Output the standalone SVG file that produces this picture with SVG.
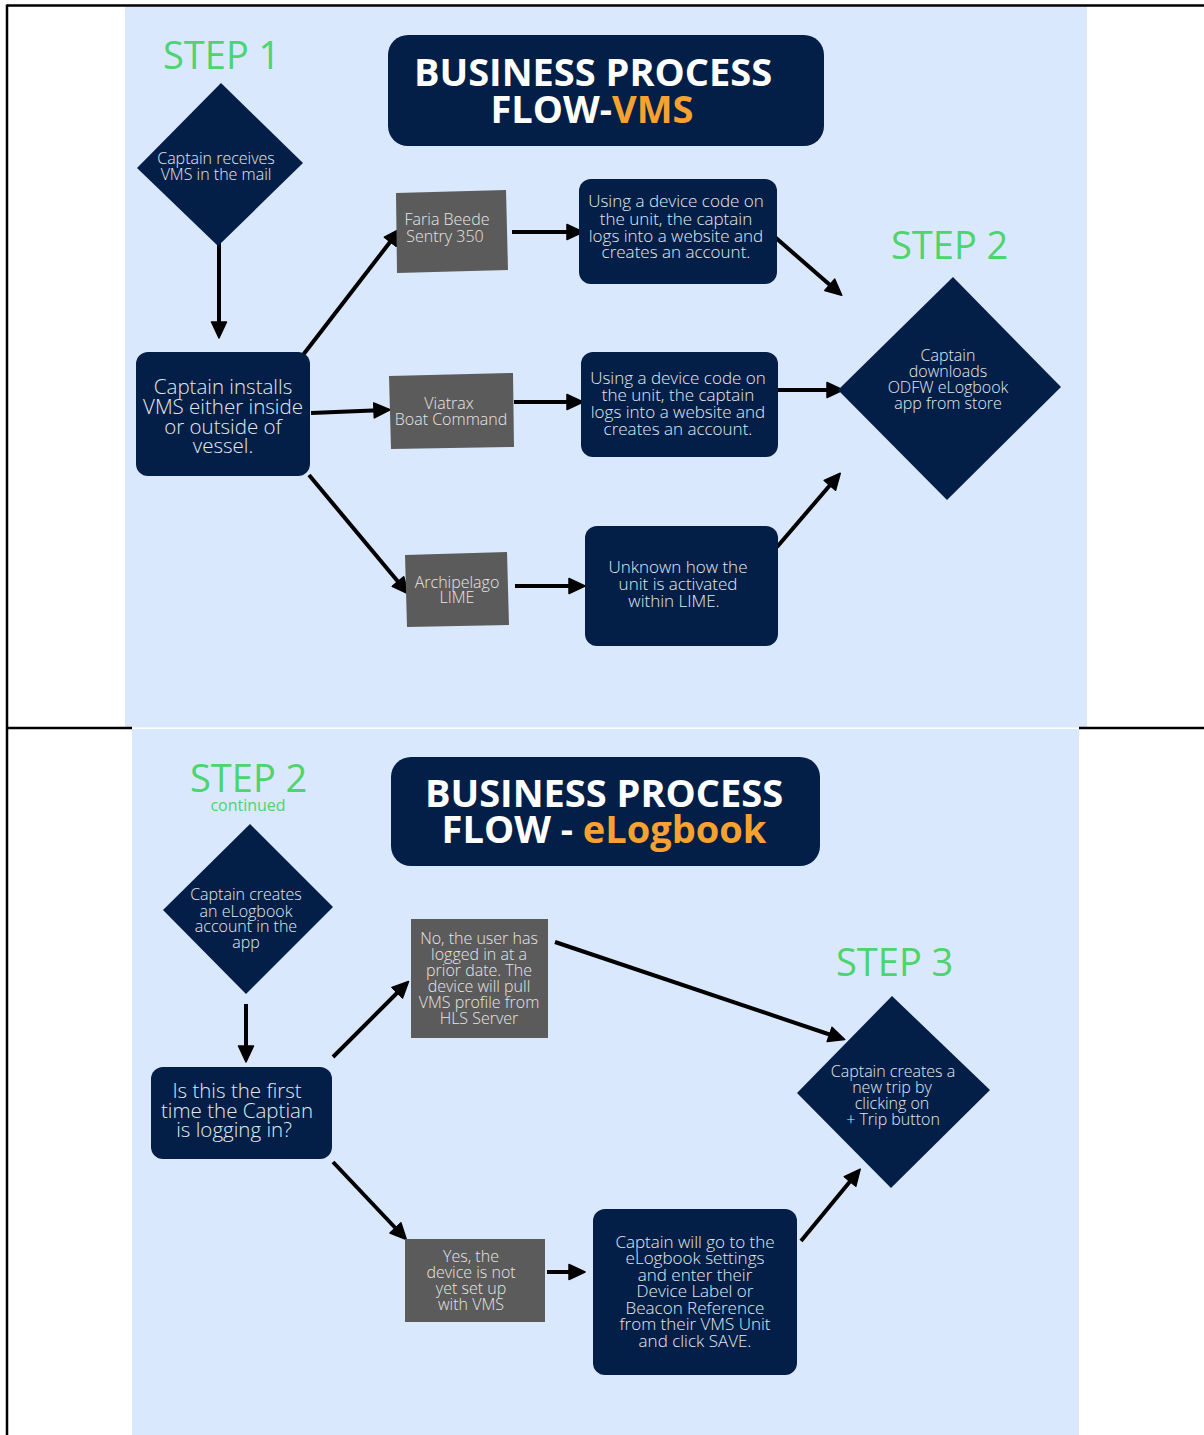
<svg xmlns="http://www.w3.org/2000/svg" width="1204" height="1435" viewBox="0 0 1204 1435">
<defs>
<style>
.panel{fill:#d9e8fc}
.navy{fill:#031f47}
.grey{fill:#5b5b5b}
.frame{stroke:#000;stroke-width:2.5;fill:none}
.title{font-family:"Open Sans","Liberation Sans",sans-serif;font-weight:700;font-size:38px;fill:#ffffff;text-anchor:middle}
.orange{fill:#f7a230}
.step{font-family:"Open Sans","Liberation Sans",sans-serif;font-size:38px;fill:#4cd46e}
.small-green{font-family:"Open Sans","Liberation Sans",sans-serif;font-size:16px;fill:#4cd46e;text-anchor:middle}
.t{font-family:"Open Sans","Liberation Sans",sans-serif;font-weight:300;font-size:16px;fill:#e3e8f0;text-anchor:middle}
.tg{font-family:"Open Sans","Liberation Sans",sans-serif;font-weight:300;font-size:16px;fill:#e6e6e6;text-anchor:middle}
.tl{font-family:"Open Sans","Liberation Sans",sans-serif;font-weight:300;font-size:20.5px;fill:#e3e8f0;text-anchor:middle}
.tm{font-family:"Open Sans","Liberation Sans",sans-serif;font-weight:300;font-size:17px;fill:#e3e8f0;text-anchor:middle}
.conn line{stroke:#000;stroke-width:4;marker-end:url(#ah)}
</style>
<marker id="ah" markerWidth="18" markerHeight="18" refX="12" refY="9" orient="auto" markerUnits="userSpaceOnUse">
<path d="M1,1.5 L17,9 L1,16.5 Z" fill="#000" stroke="#000" stroke-width="1.5" stroke-linejoin="round"/>
</marker>
</defs>

<rect x="0" y="0" width="1204" height="1435" fill="#ffffff"/>
<rect class="panel" x="125" y="6.5" width="962" height="721"/>
<rect class="panel" x="132" y="729" width="947" height="706"/>
<g id="frame">
<line class="frame" x1="7" y1="5.5" x2="1204" y2="5.5"/>
<line class="frame" x1="7" y1="4.5" x2="7" y2="1435"/>
<line class="frame" x1="7" y1="728" x2="132" y2="728"/>
<line class="frame" x1="1079" y1="728" x2="1204" y2="728"/>
</g>

<g id="title-vms">
<rect class="navy" x="388" y="35" width="436" height="111" rx="20"/>
<text class="title" x="593" y="86">BUSINESS PROCESS</text>
<text class="title" x="592" y="123">FLOW-<tspan class="orange">VMS</tspan></text>
</g>
<g id="title-elogbook">
<rect class="navy" x="391" y="757" width="429" height="109" rx="20"/>
<text class="title" x="604" y="807">BUSINESS PROCESS</text>
<text class="title" x="604" y="843">FLOW - <tspan class="orange">eLogbook</tspan></text>
</g>

<g id="steps">
<text class="step" x="163" y="69">STEP 1</text>
<text class="step" x="891" y="259">STEP 2</text>
<text class="step" x="190" y="792">STEP 2</text>
<text class="small-green" x="248" y="811">continued</text>
<text class="step" x="836" y="976">STEP 3</text>
</g>

<g id="connectors" class="conn">
<line x1="219" y1="240" x2="219" y2="333"/>
<line x1="303" y1="355" x2="397" y2="233"/>
<line x1="311" y1="413" x2="385" y2="410"/>
<line x1="309" y1="475" x2="405" y2="590"/>
<line x1="512" y1="232" x2="578" y2="232"/>
<line x1="514" y1="402" x2="578" y2="402"/>
<line x1="515" y1="586" x2="580" y2="586"/>
<line x1="768" y1="231" x2="838" y2="292"/>
<line x1="778" y1="390" x2="838" y2="390"/>
<line x1="777" y1="547" x2="837" y2="477"/>
<line x1="246" y1="1004" x2="246" y2="1057"/>
<line x1="333" y1="1057" x2="405" y2="985"/>
<line x1="555" y1="942" x2="840" y2="1038"/>
<line x1="333" y1="1162" x2="403" y2="1236"/>
<line x1="547" y1="1272" x2="580" y2="1272"/>
<line x1="801" y1="1241" x2="857" y2="1173"/>
</g>

<g id="captain-receives">
<polygon class="navy" points="221,83 303,163 218,246 137,168"/>
<text class="t" x="216" y="164">Captain receives</text>
<text class="t" x="216" y="180">VMS in the mail</text>
</g>

<g id="captain-installs">
<rect class="navy" x="136" y="352" width="174" height="124" rx="12"/>
<text class="tl" x="223" y="394">Captain installs</text>
<text class="tl" x="223" y="414">VMS either inside</text>
<text class="tl" x="223" y="434">or outside of</text>
<text class="tl" x="223" y="453">vessel.</text>
</g>

<g id="faria-beede">
<polygon class="grey" points="396,193 506,190 508,270 397,273"/>
<text class="tg" x="447" y="225">Faria Beede</text>
<text class="tg" x="445" y="242">Sentry 350</text>
</g>

<g id="viatrax">
<polygon class="grey" points="389,376 513,373 514,447 391,449"/>
<text class="tg" x="449" y="409">Viatrax</text>
<text class="tg" x="451" y="425">Boat Command</text>
</g>

<g id="archipelago">
<polygon class="grey" points="405,555 507,552 509,625 407,627"/>
<text class="tg" x="457" y="588">Archipelago</text>
<text class="tg" x="457" y="603">LIME</text>
</g>

<g id="device-code-1">
<rect class="navy" x="579" y="179" width="198" height="105" rx="12"/>
<text class="tm" x="676" y="207">Using a device code on</text>
<text class="tm" x="676" y="225">the unit, the captain</text>
<text class="tm" x="676" y="242">logs into a website and</text>
<text class="tm" x="676" y="258">creates an account.</text>
</g>

<g id="device-code-2">
<rect class="navy" x="581" y="352" width="197" height="105" rx="12"/>
<text class="tm" x="678" y="384">Using a device code on</text>
<text class="tm" x="678" y="401">the unit, the captain</text>
<text class="tm" x="678" y="418">logs into a website and</text>
<text class="tm" x="678" y="435">creates an account.</text>
</g>

<g id="unknown-lime">
<rect class="navy" x="585" y="526" width="193" height="120" rx="12"/>
<text class="tm" x="678" y="573">Unknown how the</text>
<text class="tm" x="678" y="590">unit is activated</text>
<text class="tm" x="674" y="607">within LIME.</text>
</g>

<g id="downloads-app">
<polygon class="navy" points="953,277 1061,387 947,500 838,390"/>
<text class="t" x="948" y="361">Captain</text>
<text class="t" x="948" y="377">downloads</text>
<text class="t" x="948" y="393">ODFW eLogbook</text>
<text class="t" x="948" y="409">app from store</text>
</g>

<g id="creates-account">
<polygon class="navy" points="250,824 333,907 246,994 163,910"/>
<text class="t" x="246" y="900">Captain creates</text>
<text class="t" x="246" y="917">an eLogbook</text>
<text class="t" x="246" y="932">account in the</text>
<text class="t" x="246" y="948">app</text>
</g>

<g id="first-time">
<rect class="navy" x="151" y="1067" width="181" height="92" rx="12"/>
<text class="tl" x="237" y="1098">Is this the first</text>
<text class="tl" x="237" y="1118">time the Captian</text>
<text class="tl" x="234" y="1137">is logging in?</text>
</g>

<g id="no-prior">
<rect class="grey" x="411" y="919" width="137" height="119"/>
<text class="tg" x="479" y="944">No, the user has</text>
<text class="tg" x="479" y="960">logged in at a</text>
<text class="tg" x="479" y="976">prior date. The</text>
<text class="tg" x="479" y="992">device will pull</text>
<text class="tg" x="479" y="1008">VMS profile from</text>
<text class="tg" x="479" y="1024">HLS Server</text>
</g>

<g id="yes-not-setup">
<rect class="grey" x="405" y="1239" width="140" height="83"/>
<text class="tg" x="471" y="1262">Yes, the</text>
<text class="tg" x="471" y="1278">device is not</text>
<text class="tg" x="471" y="1294">yet set up</text>
<text class="tg" x="471" y="1310">with VMS</text>
</g>

<g id="settings">
<rect class="navy" x="593" y="1209" width="204" height="166" rx="12"/>
<text class="tm" x="695" y="1248">Captain will go to the</text>
<text class="tm" x="695" y="1264">eLogbook settings</text>
<text class="tm" x="695" y="1281">and enter their</text>
<text class="tm" x="695" y="1297">Device Label or</text>
<text class="tm" x="695" y="1314">Beacon Reference</text>
<text class="tm" x="695" y="1330">from their VMS Unit</text>
<text class="tm" x="695" y="1347">and click SAVE.</text>
</g>

<g id="new-trip">
<polygon class="navy" points="892,996 990,1090 891,1188 797,1093"/>
<text class="t" x="893" y="1077">Captain creates a</text>
<text class="t" x="892" y="1093">new trip by</text>
<text class="t" x="892" y="1109">clicking on</text>
<text class="t" x="893" y="1125">+ Trip button</text>
</g>
</svg>
